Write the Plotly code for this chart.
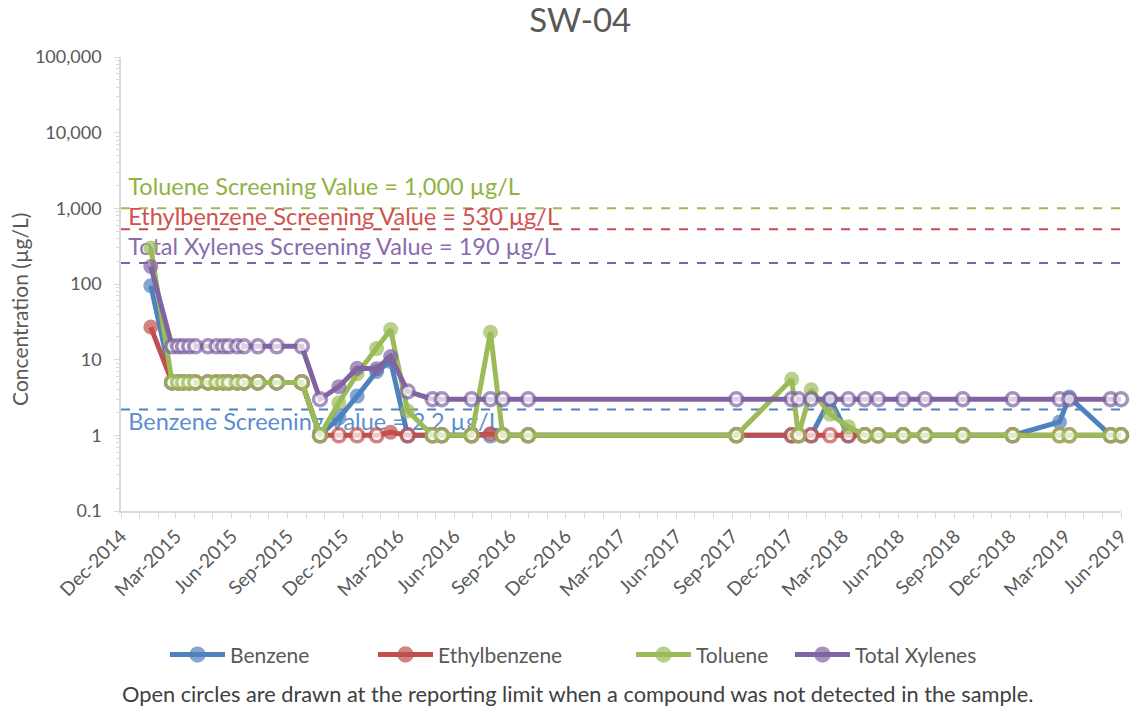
import plotly.graph_objects as go

# Sampling dates at SW-04
dates = [
    "2015-01-19", "2015-02-23", "2015-03-05", "2015-03-13", "2015-03-23",
    "2015-04-02", "2015-04-23", "2015-05-07", "2015-05-18", "2015-05-27",
    "2015-06-10", "2015-06-21", "2015-07-14", "2015-08-14", "2015-09-24",
    "2015-10-24", "2015-11-24", "2015-12-24", "2016-01-25", "2016-02-17",
    "2016-03-16", "2016-04-26", "2016-05-11", "2016-06-29", "2016-07-30",
    "2016-08-19", "2016-09-30", "2017-09-07", "2017-12-07", "2017-12-18",
    "2018-01-08", "2018-02-08", "2018-03-10", "2018-04-06", "2018-04-28",
    "2018-06-08", "2018-07-14", "2018-09-14", "2018-12-05", "2019-02-20",
    "2019-03-08", "2019-05-15", "2019-06-01",
]

# Concentrations (ug/L); non-detects are plotted at the reporting limit
benzene = [95] + [5] * 14 + [1, 1.7, 3.3, 7, 9.5, 1, 1, 1, 1, 1, 1, 1, 1, 1, 1,
                             1, 3, 1, 1, 1, 1, 1, 1, 1, 1.5, 3.2, 1, 1]
benzene_det = [1] + [0] * 14 + [0, 1, 1, 1, 1, 0, 0, 0, 0, 0, 0, 0, 0, 0, 0,
                                0, 1, 0, 0, 0, 0, 0, 0, 0, 1, 1, 0, 0]

ethylbenzene = [27] + [5] * 14 + [1, 1, 1, 1, 1.1, 1, 1, 1, 1, 1.05, 1, 1, 1, 1, 1,
                                  1, 1, 1, 1, 1, 1, 1, 1, 1, 1, 1, 1, 1]
ethylbenzene_det = [1] + [0] * 14 + [0, 0, 0, 0, 1, 0, 0, 0, 0, 1, 0, 0, 0, 0, 0,
                                     0, 0, 0, 0, 0, 0, 0, 0, 0, 0, 0, 0, 0]

toluene = [300] + [5] * 14 + [1, 2.7, 6.5, 14, 25, 2.1, 1, 1, 1, 23, 1, 1, 1, 5.5, 1,
                              4, 1.9, 1.3, 1, 1, 1, 1, 1, 1, 1, 1, 1, 1]
toluene_det = [1] + [0] * 14 + [0, 1, 1, 1, 1, 1, 0, 0, 0, 1, 0, 0, 0, 1, 0,
                                1, 1, 1, 0, 0, 0, 0, 0, 0, 0, 0, 0, 0]

xylenes = [170] + [15] * 14 + [3, 4.4, 7.7, 7.6, 11, 3.8, 3, 3, 3, 3, 3, 3, 3, 3, 3,
                               3, 3, 3, 3, 3, 3, 3, 3, 3, 3, 3, 3, 3]
xylenes_det = [1] + [0] * 14 + [0, 1, 1, 1, 1, 0, 0, 0, 0, 0, 0, 0, 0, 0, 0,
                                0, 0, 0, 0, 0, 0, 0, 0, 0, 0, 0, 0, 0]

# Screening values (ug/L)
screen_names = ["Toluene", "Ethylbenzene", "Total Xylenes", "Benzene"]
screen_values = [1000, 530, 190, 2.2]
screen_labels = ["1,000", "530", "190", "2.2"]

colors = {
    "Benzene": "#4F81BD",
    "Ethylbenzene": "#C0504D",
    "Toluene": "#9BBB59",
    "Total Xylenes": "#8064A2",
}
label_colors = {
    "Benzene": "#5B8FCF",
    "Ethylbenzene": "#D0524F",
    "Toluene": "#8FB343",
    "Total Xylenes": "#8A6BB0",
}
# vertical offset of each screening label from its line, in pixels (+ = up)
label_shift_px = {"Toluene": 19, "Ethylbenzene": 10, "Total Xylenes": 14, "Benzene": -15}
# left edge of each legend entry, as a fraction of the plot width
legend_x = {"Benzene": 0.044, "Ethylbenzene": 0.252, "Toluene": 0.510, "Total Xylenes": 0.669}

x_start, x_end = "2014-12-01", "2019-06-01"
FONT = "Lato"
PX_PER_DECADE = 454 / 6.0

fig = go.Figure()

# Screening value lines and labels (drawn first so the data sit on top)
for name, val, lab in zip(screen_names, screen_values, screen_labels):
    fig.add_trace(go.Scatter(
        x=[x_start, x_end], y=[val, val], mode="lines",
        line=dict(color=colors[name], width=2, dash="dash"),
        showlegend=False, hoverinfo="skip",
    ))
    fig.add_trace(go.Scatter(
        x=["2014-12-13"], y=[val * 10 ** (label_shift_px[name] / PX_PER_DECADE)],
        mode="text",
        text=[f"{name} Screening Value = {lab} µg/L"],
        textposition="middle right",
        textfont=dict(family=FONT, size=23.5, color=label_colors[name]),
        showlegend=False, hoverinfo="skip", cliponaxis=False,
    ))

series = [
    ("Benzene", benzene, benzene_det),
    ("Ethylbenzene", ethylbenzene, ethylbenzene_det),
    ("Toluene", toluene, toluene_det),
    ("Total Xylenes", xylenes, xylenes_det),
]
legend_layout = {}
for i, (name, vals, det) in enumerate(series):
    c = colors[name]
    lg = "legend" if i == 0 else f"legend{i + 1}"
    fig.add_trace(go.Scatter(
        x=dates, y=vals, mode="lines+markers", name=name, legend=lg,
        line=dict(color=c, width=5),
        marker=dict(
            size=[15 if d else 13 for d in det],
            color=[c if d else "white" for d in det],
            line=dict(color=c, width=[0 if d else 3.5 for d in det]),
        ),
        cliponaxis=False,
    ))
    legend_layout[lg] = dict(
        orientation="h", x=legend_x[name], xanchor="left", y=-0.317, yanchor="middle",
        font=dict(family=FONT, size=21, color="#595959"), itemwidth=55,
        bgcolor="rgba(0,0,0,0)",
    )

fig.update_layout(
    width=1131, height=713,
    margin=dict(l=121, r=10, t=57, b=202),
    paper_bgcolor="white", plot_bgcolor="white",
    font=dict(family=FONT, color="#595959"),
    title=dict(text="SW-04", x=0.513, xanchor="center", y=0.972, yanchor="middle",
               font=dict(family=FONT, size=33, color="#595959")),
    showlegend=True,
    annotations=[
        dict(text="Open circles are drawn at the reporting limit when a compound was not detected in the sample.",
             xref="paper", yref="paper", x=0.456, y=-0.401, xanchor="center", yanchor="middle",
             showarrow=False, font=dict(family=FONT, size=21.8, color="#404040")),
        dict(text="Concentration (µg/L)", textangle=-90,
             xref="paper", yref="paper", x=-0.101, y=0.443, xanchor="center", yanchor="middle",
             showarrow=False, font=dict(family=FONT, size=21, color="#595959")),
    ],
    **legend_layout,
)

fig.update_xaxes(
    type="date", range=[x_start, x_end], automargin=False,
    tick0="2014-12-01", dtick="M3", tickformat="%b-%Y", tickangle=-45,
    tickfont=dict(family=FONT, size=19, color="#595959"),
    showgrid=False, zeroline=False,
    showline=True, linecolor="#D9D9D9", linewidth=1.5,
    ticks="outside", ticklen=5, tickcolor="#D9D9D9",
    minor=dict(dtick="M1", ticks="outside", ticklen=5, tickcolor="#D9D9D9"),
)
fig.update_yaxes(
    type="log", range=[-1, 5], automargin=False,
    tickvals=[0.1, 1, 10, 100, 1000, 10000, 100000],
    ticktext=["0.1", "1", "10", "100", "1,000", "10,000", "100,000"],
    tickfont=dict(family=FONT, size=18, color="#595959"),
    showgrid=False, zeroline=False,
    showline=True, linecolor="#D9D9D9", linewidth=1.5,
    ticks="outside", ticklen=5, tickcolor="#D9D9D9",
    minor=dict(dtick="D1", ticks="outside", ticklen=3, tickcolor="#D9D9D9"),
    ticklabelstandoff=9,
)

fig.write_html("out.html")
